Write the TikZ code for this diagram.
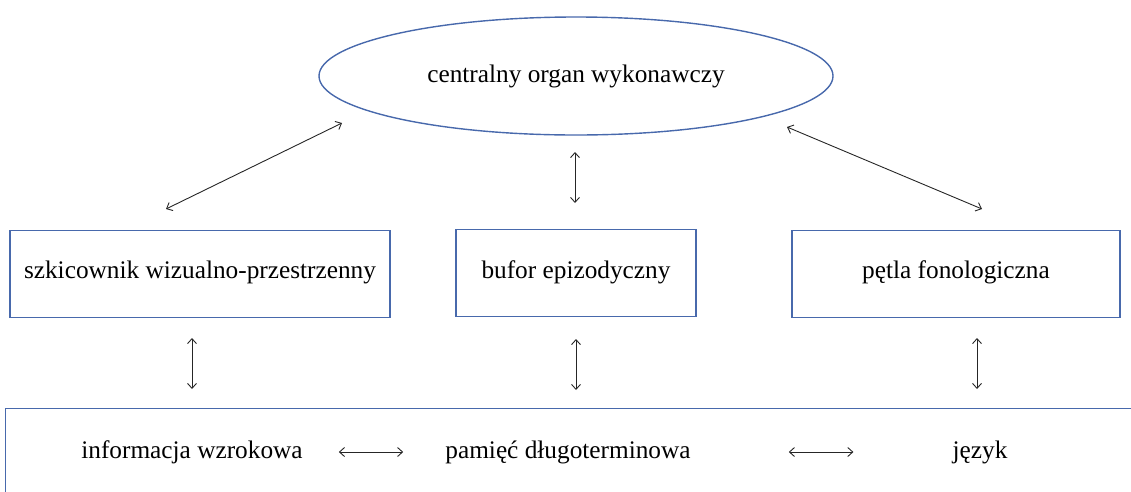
\documentclass[tikz,border=0pt]{standalone}
\usepackage{fontspec}
\setmainfont{Liberation Serif}
\usetikzlibrary{arrows.meta,shapes.geometric}
\definecolor{boxblue}{RGB}{72,105,172}
\tikzset{
  lbl/.style={font=\fontsize{25.3}{30}\selectfont, inner sep=0pt},
  blbox/.style={draw=boxblue, line width=1.4pt, minimum height=87pt, inner sep=0pt},
  dbl/.style={{Straight Barb[length=5pt,width=9pt]}-{Straight Barb[length=5pt,width=9pt]}, line width=0.9pt, draw=black!85}
}
\begin{document}
\begin{tikzpicture}[x=1pt,y=-1pt]
\useasboundingbox (0,0) rectangle (1131,491);
\clip (0,0) rectangle (1131,491);
% central executive
\node[ellipse, draw=boxblue, line width=1.4pt, minimum width=514pt, minimum height=118pt, inner sep=0pt] (ce) at (576,76) {};
\node[lbl] (cet) at (576,76) {centralny organ wykonawczy};
% middle boxes
\node[blbox, minimum width=380pt] (vs) at (200,274) {};
\node[lbl] (vst) at (200,272) {szkicownik wizualno-przestrzenny};
\node[blbox, minimum width=240pt] (eb) at (576,273) {};
\node[lbl] (ebt) at (576,272) {bufor epizodyczny};
\node[blbox, minimum width=328pt] (pl) at (956,274) {};
\node[lbl] (plt) at (956,272) {pętla fonologiczna};
% long-term memory box (runs past the picture edges)
\node[draw=boxblue, line width=1.4pt, minimum width=1150pt, minimum height=120pt, inner sep=0pt, anchor=north west] (ltm) at (5,408) {};
\node[lbl] (inf) at (192,452) {informacja wzrokowa};
\node[lbl] (pam) at (568,452) {pamięć długoterminowa};
\node[lbl] (jez) at (980,452) {język};
% arrow end points
\coordinate (l1) at (342,123);
\coordinate (l2) at (166,209);
\coordinate (r1) at (787,127);
\coordinate (r2) at (982,209);
\coordinate (m1) at (575,152);
\coordinate (m2) at (575,203);
\coordinate (v1a) at (192,338);
\coordinate (v1b) at (192,389);
\coordinate (v2a) at (576,339);
\coordinate (v2b) at (576,390);
\coordinate (v3a) at (977,338);
\coordinate (v3b) at (977,389);
% connectors
\draw[dbl] (l1) -- (l2);
\draw[dbl] (r1) -- (r2);
\draw[dbl] (m1) -- (m2);
\draw[dbl] (v1a) -- (v1b);
\draw[dbl] (v2a) -- (v2b);
\draw[dbl] (v3a) -- (v3b);
\draw[dbl, shorten <=36pt, shorten >=42pt] (inf.east) -- (pam.west |- inf.east);
\draw[dbl, shorten <=98pt, shorten >=99pt] (pam.east) -- (jez.west |- pam.east);
\end{tikzpicture}
\end{document}
